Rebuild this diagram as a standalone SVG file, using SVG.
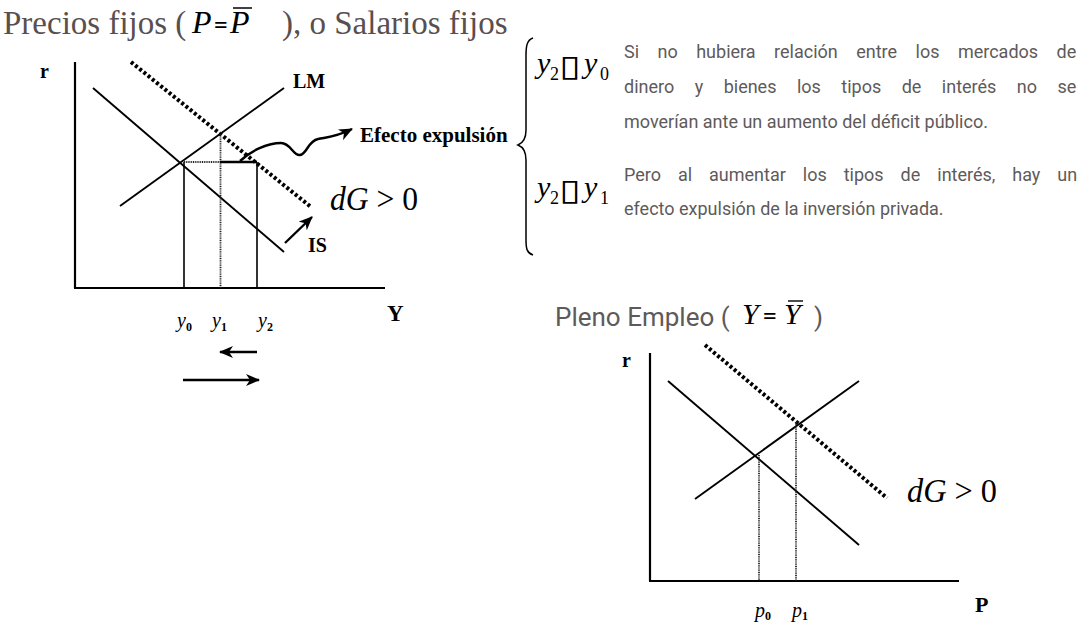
<svg xmlns="http://www.w3.org/2000/svg" width="1083" height="628" viewBox="0 0 1083 628">
<style>
.ax{stroke:#000;stroke-width:2.2;fill:none}
.ln{stroke:#000;stroke-width:1.9;fill:none}
.dot{stroke:#000;stroke-width:4;stroke-dasharray:3 2.4;fill:none}
.gv{stroke:#222;stroke-width:1.8;stroke-dasharray:1 0.8;fill:none}
.sv{stroke:#000;stroke-width:1.6;fill:none}
.arr{stroke:#000;stroke-width:2.4;fill:none;marker-end:url(#ah)}
.lb{font-family:"Liberation Serif",serif;font-weight:bold;fill:#000}
.mi{font-family:"Liberation Serif",serif;font-style:italic;fill:#000}
.mu{font-family:"Liberation Serif",serif;font-style:normal;fill:#000}
.tt{font-family:"Liberation Serif",serif;fill:#5a4f4f}
.bd{font-family:Roboto,"Liberation Sans",sans-serif;fill:#5e5a5a;font-size:18px}
.box{font-family:"DejaVu Sans",sans-serif;fill:#000;font-size:30px}
</style>
<defs>
<marker id="ah" viewBox="0 0 14 12" refX="13" refY="6" markerWidth="14" markerHeight="12" markerUnits="userSpaceOnUse" orient="auto">
<path d="M0,0 L14,6 L0,12 L4,6 Z" fill="#000"/>
</marker>
</defs>

<g id="title">
<text class="tt" font-size="33" y="34"><tspan x="3">Precios fijos (</tspan><tspan x="282">), o Salarios fijos</tspan></text>
<text class="mi" font-size="32" x="192" y="33">P</text>
<text class="mu" font-size="24" font-weight="bold" x="214" y="33">=</text>
<text class="mi" font-size="32" x="230" y="33">P</text>
<line x1="233" y1="8" x2="252" y2="8" stroke="#000" stroke-width="1.5"/>
</g>

<g id="chart-left">
<line class="ax" x1="75" y1="62" x2="75" y2="288"/>
<line class="ax" x1="74" y1="288" x2="385" y2="288"/>
<line class="ln" x1="93" y1="88" x2="284" y2="252"/>
<line class="ln" x1="120" y1="206" x2="284" y2="88"/>
<line class="dot" x1="131" y1="62" x2="311" y2="207"/>
<line class="sv" x1="184" y1="162" x2="184" y2="288"/>
<line class="gv" x1="220.5" y1="132" x2="220.5" y2="288"/>
<line class="sv" x1="257" y1="162" x2="257" y2="288"/>
<line class="gv" x1="184" y1="162" x2="220" y2="162"/>
<line x1="220" y1="162" x2="257" y2="162" stroke="#000" stroke-width="2.6"/>
<text class="lb" font-size="20" x="40" y="78">r</text>
<text class="lb" font-size="20" x="293" y="88">LM</text>
<text class="lb" font-size="20" x="308" y="252">IS</text>
<text class="lb" font-size="23" x="387" y="321">Y</text>
<text class="mi" font-size="34" x="330" y="210" textLength="88" lengthAdjust="spacingAndGlyphs">dG<tspan font-style="normal"> &gt; 0</tspan></text>
<text class="mi" font-size="20" x="177" y="327">y<tspan class="mu" font-size="12" font-weight="bold" dy="4">0</tspan></text>
<text class="mi" font-size="20" x="212" y="327">y<tspan class="mu" font-size="12" font-weight="bold" dy="4">1</tspan></text>
<text class="mi" font-size="20" x="258" y="327">y<tspan class="mu" font-size="12" font-weight="bold" dy="4">2</tspan></text>
</g>

<g id="label-efecto">
<text class="lb" font-size="21" x="360" y="142">Efecto expulsión</text>
</g>

<g id="connectors">
<path class="arr" d="M240,161 C252,150 268,143 281,143 C291,143 293,156 300,155 C307,154 308,141 318,139 C328,137 336,137 352,129"/>
<line class="arr" x1="285" y1="243" x2="312" y2="217"/>
<line class="arr" x1="257" y1="352" x2="220" y2="352"/>
<line class="arr" x1="183" y1="380" x2="259" y2="380"/>
</g>

<g id="brace">
<path d="M533,38 C527,40 526,46 526,55 L526,130 C526,138 523,143 518,145 C523,147 526,152 526,160 L526,240 C526,249 527,253 533,255" stroke="#000" stroke-width="1.5" fill="none"/>
</g>

<g id="eq1">
<text class="mi" font-size="30" x="537" y="73">y</text>
<text class="mu" font-size="18" x="550" y="80">2</text>
<text class="box" transform="matrix(1.3 0 0 1 559 76)">▯</text>
<text class="mi" font-size="30" x="584" y="73">y</text>
<text class="mu" font-size="18" x="600" y="80">0</text>
</g>
<g id="eq2">
<text class="mi" font-size="30" x="537" y="197">y</text>
<text class="mu" font-size="18" x="550" y="204">2</text>
<text class="box" transform="matrix(1.3 0 0 1 559 200)">▯</text>
<text class="mi" font-size="30" x="584" y="197">y</text>
<text class="mu" font-size="18" x="600" y="204">1</text>
</g>

<g id="text-right">
<text class="bd" x="624" y="58" word-spacing="14">Si no hubiera relación entre los mercados de</text>
<text class="bd" x="624" y="93" word-spacing="16">dinero y bienes los tipos de interés no se</text>
<text class="bd" x="624" y="128">moverían ante un aumento del déficit público.</text>
<text class="bd" x="624" y="181" word-spacing="12.5">Pero al aumentar los tipos de interés, hay un</text>
<text class="bd" x="624" y="215">efecto expulsión de la inversión privada.</text>
</g>

<g id="title-pleno">
<text class="bd" x="555" y="326" style="font-size:26px">Pleno Empleo (</text>
<text class="mi" font-size="30" x="742" y="324">Y</text>
<text class="mu" font-size="24" font-weight="bold" x="763" y="324">=</text>
<text class="mi" font-size="30" x="784" y="324">Y</text>
<line x1="788" y1="301" x2="803" y2="301" stroke="#000" stroke-width="1.4"/>
<text class="bd" x="814" y="326" style="font-size:26px">)</text>
</g>

<g id="chart-right">
<line class="ax" x1="650" y1="353" x2="650" y2="581"/>
<line class="ax" x1="649" y1="581" x2="959" y2="581"/>
<line class="ln" x1="668" y1="381" x2="859" y2="545"/>
<line class="ln" x1="695" y1="499" x2="859" y2="381"/>
<line class="dot" x1="705" y1="345" x2="887" y2="498"/>
<line class="gv" x1="759" y1="455" x2="759" y2="581"/>
<line class="gv" x1="796" y1="422" x2="796" y2="581"/>
<text class="lb" font-size="20" x="622" y="367">r</text>
<text class="lb" font-size="22" x="975" y="612">P</text>
<text class="mi" font-size="34" x="907" y="502" textLength="90" lengthAdjust="spacingAndGlyphs">dG<tspan font-style="normal"> &gt; 0</tspan></text>
<text class="mi" font-size="20" x="755" y="617">p<tspan class="mu" font-size="12" font-weight="bold" dy="3">0</tspan></text>
<text class="mi" font-size="20" x="792" y="617">p<tspan class="mu" font-size="12" font-weight="bold" dy="3">1</tspan></text>
</g>
</svg>
